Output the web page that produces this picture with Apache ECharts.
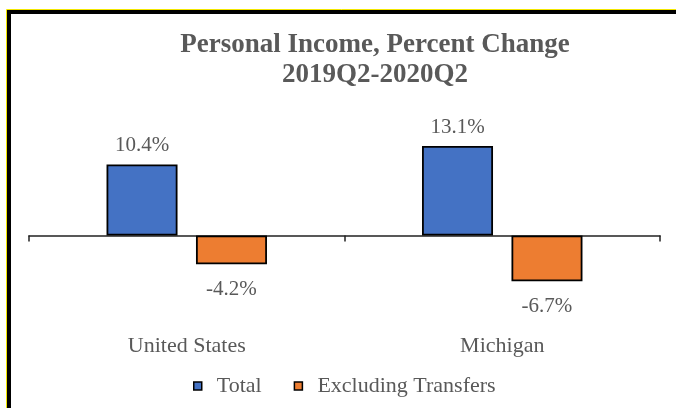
<!DOCTYPE html>
<html>
<head>
<meta charset="utf-8">
<script src="https://cdn.jsdelivr.net/npm/echarts@6/dist/echarts.min.js"></script>
<style>html,body{margin:0;padding:0;background:#fff;}#c{width:676px;height:408px;}</style>
</head>
<body>
<div id="c"></div>
<script>
const categories = ['United States', 'Michigan'];
const totalValues = [10.4, 13.1];
const exclValues = [-4.2, -6.7];
const seriesNames = ['Total', 'Excluding Transfers'];
const titleText = 'Personal Income, Percent Change\n2019Q2-2020Q2';

const FONT = '"Liberation Serif", "Times New Roman", serif';
const TXT = '#595959';

function items(vals) {
  return vals.map(v => ({
    value: v,
    label: v < 0 ? { position: 'bottom', distance: 15 } : { position: 'top', distance: 8 }
  }));
}

const chart = echarts.init(document.getElementById('c'), null, { renderer: 'canvas' });
chart.setOption({
  animation: false,
  backgroundColor: '#fff',
  title: {
    text: titleText,
    left: 375,
    top: 30,
    padding: 0,
    textAlign: 'center',
    textStyle: { fontFamily: FONT, fontWeight: 'bold', fontSize: 27, lineHeight: 30, color: TXT }
  },
  legend: {
    data: seriesNames,
    left: 193,
    top: 375,
    padding: 0,
    itemWidth: 8,
    itemHeight: 8,
    itemGap: 32,
    icon: 'rect',
    itemStyle: { borderColor: '#000', borderWidth: 1.5 },
    textStyle: { fontFamily: FONT, fontSize: 22, color: TXT, padding: [0, 0, 0, 10] }
  },
  grid: { left: 29, right: 16, top: 126.2, bottom: 104.2, containLabel: false, outerBoundsMode: 'none' },
  xAxis: {
    type: 'category',
    data: categories,
    axisLine: { onZero: true, lineStyle: { color: '#222', width: 1.5 } },
    axisTick: { show: true, length: 6, lineStyle: { color: '#222', width: 1.5 } },
    axisLabel: { margin: 31, fontFamily: FONT, fontSize: 22, color: TXT }
  },
  yAxis: {
    type: 'value',
    min: -10,
    max: 16,
    show: false,
    splitLine: { show: false }
  },
  series: [
    {
      name: seriesNames[0],
      type: 'bar',
      data: items(totalValues),
      barWidth: 71,
      barGap: '26%',
      itemStyle: { color: '#4472C4', borderColor: '#000', borderWidth: 1.8 },
      label: { show: true, fontFamily: FONT, fontSize: 21, color: TXT, formatter: p => p.value.toFixed(1) + '%' }
    },
    {
      name: seriesNames[1],
      type: 'bar',
      data: items(exclValues),
      barWidth: 71,
      barGap: '26%',
      itemStyle: { color: '#ED7D31', borderColor: '#000', borderWidth: 1.8 },
      label: { show: true, fontFamily: FONT, fontSize: 21, color: TXT, formatter: p => p.value.toFixed(1) + '%' }
    }
  ],
  graphic: [
    { type: 'rect', silent: true, z: 100, shape: { x: 6.5, y: 9.5, width: 720, height: 460 }, style: { fill: 'none', stroke: '#f2e600', lineWidth: 1 } },
    { type: 'rect', silent: true, z: 100, shape: { x: 9, y: 12, width: 720, height: 460 }, style: { fill: 'none', stroke: '#000', lineWidth: 4 } }
  ]
});
</script>
</body>
</html>
